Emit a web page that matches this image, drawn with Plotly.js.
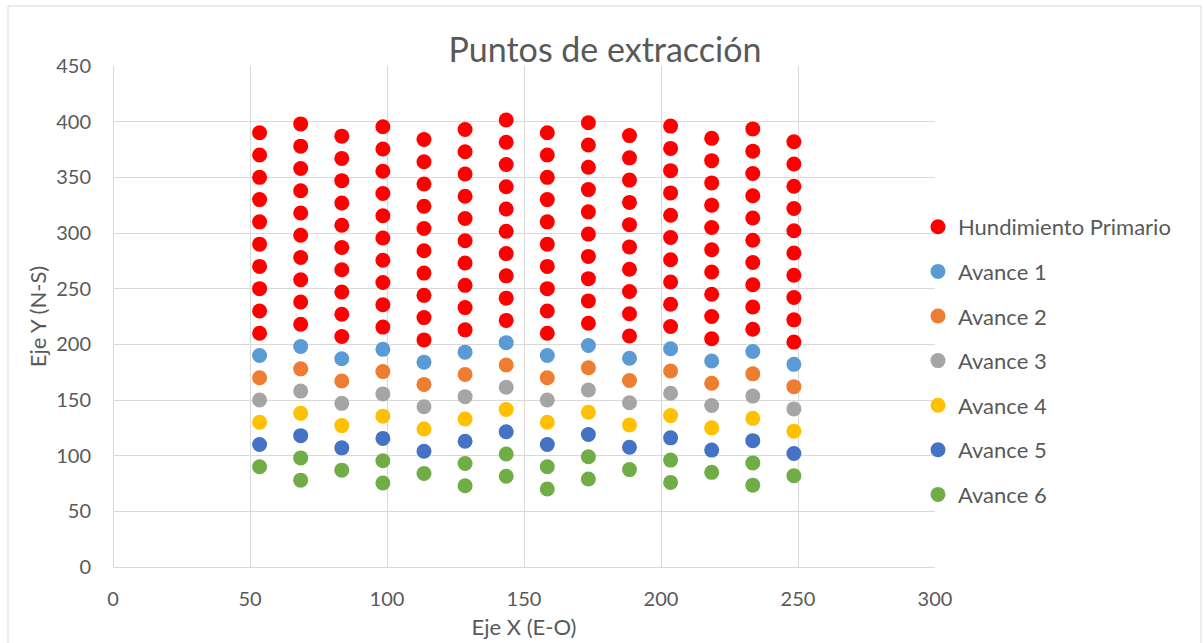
<!DOCTYPE html>
<html>
<head>
<meta charset="utf-8">
<script src="https://cdn.plot.ly/plotly-3.0.1.min.js"></script>
<style>
  html, body { margin: 0; padding: 0; background: #ffffff; }
  #chart { width: 1204px; height: 643px; }
</style>
</head>
<body>
<div id="chart"></div>
<script>
// ---- Data ----
const columnX = [53.5, 68.5, 83.5, 98.5, 113.5, 128.5, 143.5, 158.5, 173.5, 188.5, 203.5, 218.5, 233.5, 248.5];

// Hundimiento Primario: ten points per column (bottom to top)
const hundimientoY = [
  [210, 230, 250, 270, 290, 310, 330, 350, 370, 390],
  [218, 238, 258, 278, 298, 318, 338, 358, 378, 398],
  [207, 227, 247, 267, 287, 307, 327, 347, 367, 387],
  [215.5, 235.5, 255.5, 275.5, 295.5, 315.5, 335.5, 355.5, 375.5, 395.5],
  [204, 224, 244, 264, 284, 304, 324, 344, 364, 384],
  [213, 233, 253, 273, 293, 313, 333, 353, 373, 393],
  [221.5, 241.5, 261.5, 281.5, 301.5, 321.5, 341.5, 361.5, 381.5, 401.5],
  [210, 230, 250, 270, 290, 310, 330, 350, 370, 390],
  [219, 239, 259, 279, 299, 319, 339, 359, 379, 399],
  [207.5, 227.5, 247.5, 267.5, 287.5, 307.5, 327.5, 347.5, 367.5, 387.5],
  [216, 236, 256, 276, 296, 316, 336, 356, 376, 396],
  [205, 225, 245, 265, 285, 305, 325, 345, 365, 385],
  [213.5, 233.5, 253.5, 273.5, 293.5, 313.5, 333.5, 353.5, 373.5, 393.5],
  [202, 222, 242, 262, 282, 302, 322, 342, 362, 382]
];

const avance1Y = [190, 198, 187, 195.5, 184, 193, 201.5, 190, 199, 187.5, 196, 185, 193.5, 182];
const avance2Y = [170, 178, 167, 175.5, 164, 173, 181.5, 170, 179, 167.5, 176, 165, 173.5, 162];
const avance3Y = [150, 158, 147, 155.5, 144, 153, 161.5, 150, 159, 147.5, 156, 145, 153.5, 142];
const avance4Y = [130, 138, 127, 135.5, 124, 133, 141.5, 130, 139, 127.5, 136, 125, 133.5, 122];
const avance5Y = [110, 118, 107, 115.5, 104, 113, 121.5, 110, 119, 107.5, 116, 105, 113.5, 102];

// Avance 6: some columns hold two points
const avance6X = [53.5, 68.5, 68.5, 83.5, 98.5, 98.5, 113.5, 128.5, 128.5, 143.5, 143.5, 158.5, 158.5,
                  173.5, 173.5, 188.5, 203.5, 203.5, 218.5, 233.5, 233.5, 248.5];
const avance6Y = [90, 98, 78, 87, 95.5, 75.5, 84, 93, 73, 101.5, 81.5, 90, 70,
                  99, 79, 87.5, 96, 76, 85, 93.5, 73.5, 82];

const seriesNames = ["Hundimiento Primario", "Avance 1", "Avance 2", "Avance 3", "Avance 4", "Avance 5", "Avance 6"];
const seriesColors = ["#FF0000", "#5B9BD5", "#ED7D31", "#A5A5A5", "#FFC000", "#4472C4", "#70AD47"];

const chartTitle = "Puntos de extracción";
const xTitle = "Eje X (E-O)";
const yTitle = "Eje Y (N-S)";

// ---- Build traces ----
const hundX = [];
const hundY = [];
hundimientoY.forEach((col, i) => col.forEach(v => { hundX.push(columnX[i]); hundY.push(v); }));

const seriesData = [
  [hundX, hundY],
  [columnX, avance1Y],
  [columnX, avance2Y],
  [columnX, avance3Y],
  [columnX, avance4Y],
  [columnX, avance5Y],
  [avance6X, avance6Y]
];

const traces = seriesData.map((d, i) => ({
  type: "scatter",
  mode: "markers",
  name: seriesNames[i],
  legendgroup: "g" + i,
  x: d[0],
  y: d[1],
  marker: { color: seriesColors[i], size: 15, line: { width: 0 } },
  hoverinfo: "x+y+name"
}));

const W = 1204, H = 643;
const mL = 113, mR = 269, mT = 66, mB = 76;
const pw = W - mL - mR, ph = H - mT - mB;
const px2x = p => (p - mL) / pw;
const py2y = p => (H - mB - p) / ph;

const grid = "#d9d9d9";
const txt = "#595959";
const fontFam = "Lato, 'Open Sans', sans-serif";

const layout = {
  width: W,
  height: H,
  margin: { l: mL, r: mR, t: mT, b: mB, pad: 0 },
  paper_bgcolor: "#ffffff",
  plot_bgcolor: "#ffffff",
  font: { family: fontFam, color: txt, size: 20 },
  title: {
    text: chartTitle,
    font: { family: fontFam, size: 34, color: txt },
    x: 605 / W, xref: "container", xanchor: "center",
    y: 1 - 50 / H, yref: "container", yanchor: "middle"
  },
  xaxis: {
    range: [0, 300],
    dtick: 50,
    tick0: 0,
    showgrid: true,
    gridcolor: grid,
    gridwidth: 1,
    zeroline: true,
    zerolinecolor: grid,
    zerolinewidth: 1,
    showline: false,
    ticks: "outside",
    ticklen: 14,
    tickcolor: "rgba(0,0,0,0)",
    tickfont: { family: fontFam, size: 20, color: txt },
    automargin: false,
    fixedrange: true,
    title: { text: xTitle, font: { family: fontFam, size: 22, color: txt }, standoff: 10 }
  },
  yaxis: {
    range: [0, 450],
    dtick: 50,
    tick0: 0,
    showgrid: true,
    gridcolor: grid,
    gridwidth: 1,
    zeroline: true,
    zerolinecolor: grid,
    zerolinewidth: 1,
    showline: false,
    ticks: "outside",
    ticklen: 17,
    tickcolor: "rgba(0,0,0,0)",
    tickfont: { family: fontFam, size: 20, color: txt },
    automargin: false,
    fixedrange: true,
    title: { text: yTitle, font: { family: fontFam, size: 22, color: txt }, standoff: 3 }
  },
  showlegend: true,
  legend: {
    x: px2x(918),
    xanchor: "left",
    y: py2y(206),
    yanchor: "top",
    font: { family: fontFam, size: 22, color: txt },
    tracegroupgap: 13,
    bgcolor: "rgba(0,0,0,0)",
    itemclick: false,
    itemdoubleclick: false
  },
  shapes: [{
    type: "rect",
    xref: "paper", yref: "paper",
    x0: px2x(8), x1: px2x(1201),
    y0: py2y(660), y1: py2y(6),
    line: { color: grid, width: 1 },
    fillcolor: "rgba(0,0,0,0)",
    layer: "below"
  }]
};

Plotly.newPlot("chart", traces, layout, { staticPlot: true, displayModeBar: false });
</script>
</body>
</html>
